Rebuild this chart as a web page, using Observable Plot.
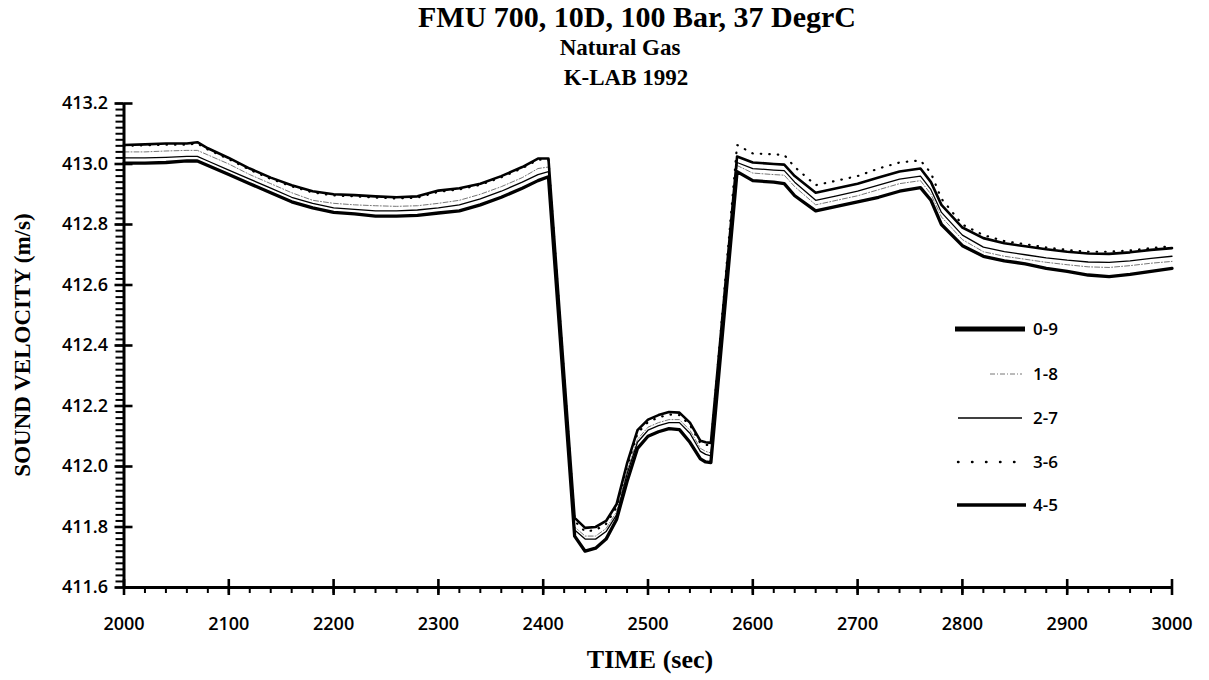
<!DOCTYPE html>
<html>
<head>
<meta charset="utf-8">
<script src="https://cdn.jsdelivr.net/npm/d3@7"></script>
<script src="https://cdn.jsdelivr.net/npm/@observablehq/plot@0.6"></script>
<style>
  html, body { margin: 0; padding: 0; background: #fff; }
  #wrap { position: relative; width: 1209px; height: 680px; overflow: hidden; background: #fff; color: #000; }
  .ttl { position: absolute; white-space: nowrap; font-family: "Liberation Serif", "Times New Roman", serif; font-weight: bold; transform: translateX(-50%); }
  #head { position: relative; height: 92px; }
  #chart svg { display: block; }
  #legend { position: absolute; left: 0; top: 0; pointer-events: none; }
</style>
</head>
<body>
<div id="wrap">
  <div id="head">
    <div class="ttl" style="left:637px; top:2px; font-size:30px; line-height:30px;">FMU 700, 10D, 100 Bar, 37 DegrC</div>
    <div class="ttl" style="left:620px; top:36px; font-size:23px; line-height:23px;">Natural Gas</div>
    <div class="ttl" style="left:626px; top:66px; font-size:23px; line-height:23px;">K-LAB 1992</div>
  </div>
  <div id="chart"></div>
  <div class="ttl" style="left:650px; top:647px; font-size:26px; line-height:26px;">TIME (sec)</div>
  <div class="ttl" style="left:22px; top:345px; font-size:23px; line-height:23px; transform: translate(-50%,-50%) rotate(-90deg);">SOUND VELOCITY (m/s)</div>
  <svg id="legend" width="1209" height="680"></svg>
</div>
<script>
// ---- data ----
const times = [2000,2020,2040,2060,2070,2080,2100,2120,2140,2160,2180,2200,2220,2240,2260,2280,2300,2320,2340,2360,2380,2395,2405,
  2430,2440,2450,2460,2470,2480,2490,2500,2510,2520,2530,2540,2550,2555,2560,
  2585,2600,2620,2630,2640,2660,2680,2700,2720,2740,2760,2770,2780,2800,2820,2840,2860,2880,2900,2920,2940,2960,2980,3000];

const s09 = [413.003,413.003,413.005,413.010,413.010,412.995,412.965,412.935,412.905,412.875,412.855,412.840,412.835,412.828,412.828,412.830,412.838,412.845,412.865,412.890,412.920,412.945,412.958,
  411.770,411.720,411.730,411.760,411.825,411.950,412.060,412.100,412.115,412.125,412.122,412.080,412.025,412.015,412.013,
  412.975,412.945,412.940,412.935,412.895,412.845,412.860,412.875,412.890,412.910,412.922,412.880,412.800,412.730,412.695,412.680,412.670,412.655,412.645,412.633,412.628,412.635,412.645,412.655];

const s18 = [413.040,413.040,413.043,413.045,413.045,413.030,413.000,412.965,412.935,412.905,412.880,412.870,412.865,412.862,412.860,412.862,412.870,412.880,412.900,412.925,412.955,412.985,412.990,
  411.800,411.770,411.770,411.795,411.850,411.985,412.090,412.130,412.145,412.155,412.155,412.120,412.060,412.050,412.045,
  412.995,412.970,412.965,412.963,412.925,412.865,412.880,412.895,412.915,412.935,412.945,412.900,412.825,412.750,412.710,412.695,412.685,412.675,412.667,412.660,412.658,412.664,412.672,412.678];

const s27 = [413.020,413.020,413.022,413.025,413.025,413.010,412.980,412.950,412.920,412.890,412.870,412.855,412.850,412.845,412.845,412.848,412.855,412.865,412.885,412.910,412.940,412.965,412.975,
  411.790,411.760,411.760,411.785,411.840,411.975,412.080,412.120,412.135,412.145,412.145,412.110,412.050,412.040,412.035,
  413.005,412.985,412.980,412.978,412.940,412.880,412.895,412.910,412.930,412.950,412.960,412.915,412.840,412.765,412.725,412.710,412.700,412.690,412.682,412.676,412.675,412.680,412.688,412.695];

const s36 = [413.060,413.062,413.064,413.064,413.068,413.048,413.016,412.981,412.951,412.926,412.906,412.896,412.893,412.889,412.886,412.889,412.908,412.916,412.931,412.956,412.986,413.014,413.014,
  411.820,411.785,411.790,411.810,411.865,412.000,412.110,412.147,412.162,412.172,412.170,412.137,412.077,412.072,412.070,
  413.063,413.035,413.032,413.030,412.990,412.930,412.945,412.960,412.985,413.005,413.012,412.970,412.885,412.800,412.765,412.745,412.735,412.724,412.716,412.710,412.710,412.714,412.722,412.728];

const s45 = [413.063,413.065,413.068,413.068,413.072,413.052,413.020,412.985,412.955,412.930,412.910,412.900,412.897,412.893,412.890,412.893,412.912,412.920,412.935,412.960,412.990,413.018,413.018,
  411.830,411.797,411.800,411.820,411.875,412.010,412.120,412.155,412.170,412.180,412.178,412.145,412.085,412.080,412.078,
  413.025,413.005,413.000,412.998,412.960,412.905,412.920,412.935,412.955,412.975,412.985,412.940,412.865,412.790,412.755,412.738,412.728,412.718,412.710,412.704,412.703,412.708,412.716,412.722];

const seriesKeys = ["s09","s18","s27","s36","s45"];
const seriesLabels = ["0-9","1-8","2-7","3-6","4-5"];
const xMajor = [2000,2100,2200,2300,2400,2500,2600,2700,2800,2900,3000];
const yMajor = [411.6,411.8,412.0,412.2,412.4,412.6,412.8,413.0,413.2];

// ---- build table ----
const cols = {s09, s18, s27, s36, s45};
const rows = times.map((t, i) => {
  const r = {t};
  for (const k of seriesKeys) r[k] = cols[k][i];
  return r;
});
const xMinor = d3.range(0, 51).map(i => 2000 + i * 20);
const yMinor = d3.range(0, 81).map(i => +(411.6 + i * 0.02).toFixed(2));

const styles = {
  s09: {stroke: "#000", strokeWidth: 3.3},
  s18: {stroke: "#777", strokeWidth: 1, strokeDasharray: "5,2,1,2"},
  s27: {stroke: "#000", strokeWidth: 1.3},
  s36: {stroke: "#000", strokeWidth: 2.2, strokeDasharray: "0.5,8", strokeLinecap: "round"},
  s45: {stroke: "#000", strokeWidth: 2.6}
};

const chart = Plot.plot({
  width: 1209,
  height: 588,
  marginTop: 11,
  marginBottom: 93,
  marginLeft: 123.5,
  marginRight: 37.5,
  x: {domain: [2000, 3000]},
  y: {domain: [411.6, 413.2]},
  style: {fontFamily: "'Open Sans', sans-serif", color: "#000", background: "#fff", overflow: "visible"},
  marks: [
    Plot.line(rows, {x: "t", y: "s18", ...styles.s18}),
    Plot.line(rows, {x: "t", y: "s27", ...styles.s27}),
    Plot.line(rows, {x: "t", y: "s36", ...styles.s36}),
    Plot.line(rows, {x: "t", y: "s45", ...styles.s45}),
    Plot.line(rows, {x: "t", y: "s09", ...styles.s09}),
    Plot.ruleX([2000], {strokeWidth: 3}),
    Plot.ruleY([411.6], {strokeWidth: 3}),
    // y axis ticks
    Plot.axisY({ticks: yMinor, tickSize: 8, fill: "none", strokeWidth: 2, label: null}),
    Plot.axisY({ticks: yMajor, tickSize: 9, fill: "none", strokeWidth: 2.6, label: null}),
    Plot.axisY({ticks: yMajor, tickSize: 9, fill: "none", strokeWidth: 2.6, dx: 9, label: null}),
    Plot.axisY({ticks: yMajor, tickSize: 0, tickPadding: 16, tickFormat: d3.format(".1f"), fontSize: 18, fontWeight: 600, label: null}),
    // x axis ticks
    Plot.axisX({ticks: xMinor, tickSize: 6, fill: "none", strokeWidth: 2, label: null}),
    Plot.axisX({ticks: xMajor, tickSize: 8, fill: "none", strokeWidth: 2.6, label: null}),
    Plot.axisX({ticks: xMajor, tickSize: 8, fill: "none", strokeWidth: 2.6, dy: -8, label: null}),
    Plot.axisX({ticks: xMajor, tickSize: 0, tickPadding: 30, tickFormat: d3.format("d"), fontSize: 18, fontWeight: 600, label: null})
  ]
});
document.getElementById("chart").appendChild(chart);

// ---- legend (inside plot area) ----
const legendRows = [
  {key: "s09", y: 329, x1: 955, x2: 1025, w: 5},
  {key: "s18", y: 374, x1: 990, x2: 1022, w: 1},
  {key: "s27", y: 418, x1: 958, x2: 1022, w: 1.3},
  {key: "s36", y: 462, x1: 958, x2: 1018, w: 2.4, dash: "0.5,13.5"},
  {key: "s45", y: 505, x1: 957, x2: 1026, w: 3.5}
];
const lg = d3.select("#legend");
legendRows.forEach((r, i) => {
  const st = styles[r.key];
  lg.append("line")
    .attr("x1", r.x1).attr("x2", r.x2).attr("y1", r.y).attr("y2", r.y)
    .attr("stroke", st.stroke).attr("stroke-width", r.w)
    .attr("stroke-dasharray", r.dash || st.strokeDasharray || null)
    .attr("stroke-linecap", st.strokeLinecap || "butt");
  lg.append("text")
    .attr("x", 1033).attr("y", r.y).attr("dy", "0.35em")
    .attr("font-family", "'Open Sans', sans-serif").attr("font-size", 17).attr("font-weight", 600)
    .text(seriesLabels[i]);
});
</script>
</body>
</html>
